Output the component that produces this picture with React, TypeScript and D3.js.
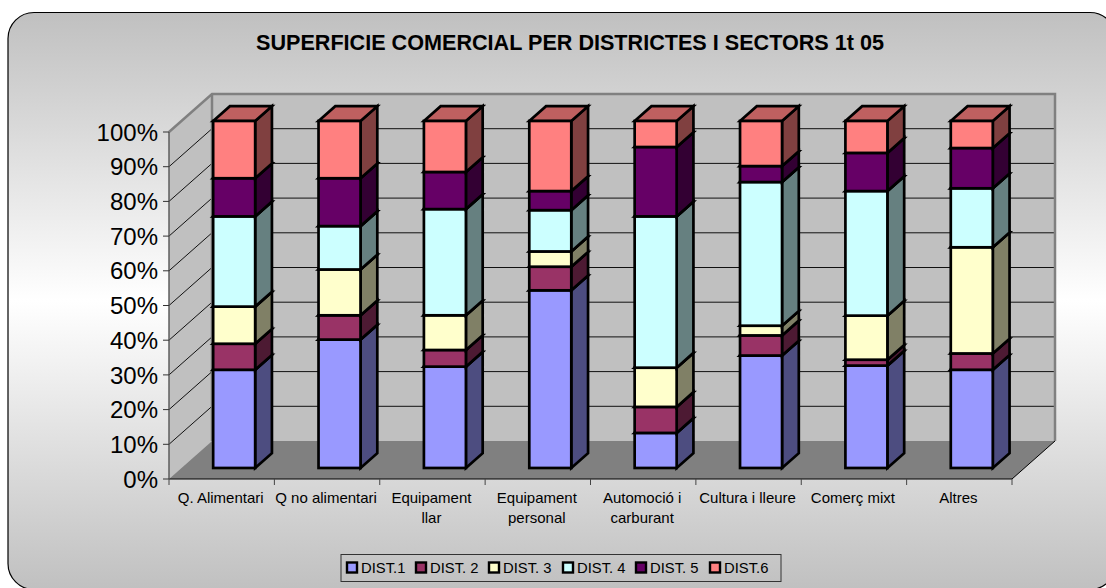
import React from 'react';
import * as d3 from 'd3';

const categories = ['Q. Alimentari', 'Q no alimentari', 'Equipament llar', 'Equipament personal', 'Automoció i carburant', 'Cultura i lleure', 'Comerç mixt', 'Altres'];
const labelLines = [['Q. Alimentari'], ['Q no alimentari'], ['Equipament', 'llar'], ['Equipament', 'personal'], ['Automoció i', 'carburant'], ['Cultura i lleure'], ['Comerç mixt'], ['Altres']];
const seriesNames = ['DIST.1', 'DIST. 2', 'DIST. 3', 'DIST. 4', 'DIST. 5', 'DIST.6'];
const dist1 = [28.3, 37, 29.2, 51.2, 10.1, 32.4, 29.5, 28.3];
const dist2 = [7.5, 7, 4.8, 6.8, 7.5, 5.8, 1.7, 4.7];
const dist3 = [10.7, 13.2, 10, 4.4, 11.3, 2.8, 12.7, 30.6];
const dist4 = [26, 12.5, 30.6, 11.9, 43.6, 41.4, 35.9, 17];
const dist5 = [11, 13.8, 10.7, 5.5, 20, 4.6, 11, 11.6];
const dist6 = [16.5, 16.5, 14.7, 20.2, 7.5, 13, 9.2, 7.8];
const allSeries = [dist1, dist2, dist3, dist4, dist5, dist6];
const colors = ['#9999ff', '#993366', '#ffffcc', '#ccffff', '#660066', '#ff8080'];
const yTicks = [0, 10, 20, 30, 40, 50, 60, 70, 80, 90, 100];
const legendX = [347, 416, 489, 563, 636, 710];

const font = '"Liberation Sans", Arial, sans-serif';
// projection of the 3D box: how far the back wall sits from the front plane
const DEPTH_X = 43;
const DEPTH_Y = -38;
const BAR_FRONT = 0.29;
const BAR_BACK = 0.68;
const BAR_WIDTH = 42;

const x = d3.scaleBand().domain(categories).range([169, 1012]);
const y = d3.scaleLinear().domain([0, 1]).range([479, 132]);
const yPct = d3.scaleLinear().domain([0, 100]).range([479, 132]);

const rows = categories.map((c, i) => {
  const row: any = { category: c };
  seriesNames.forEach((s, j) => { row[s] = allSeries[j][i]; });
  return row;
});
const stacked = d3.stack().keys(seriesNames).offset(d3.stackOffsetExpand)(rows);

const pts = (p: number[][]) => p.map(d => d.join(',')).join(' ');

const Segment = ({ x0, y0, y1, fill }: any) => {
  const dFx = DEPTH_X * BAR_FRONT, dFy = DEPTH_Y * BAR_FRONT;
  const dBx = DEPTH_X * BAR_BACK, dBy = DEPTH_Y * BAR_BACK;
  const left = x0 + dFx, right = left + BAR_WIDTH;
  const top = y1 + dFy, bottom = y0 + dFy;
  const backRight = x0 + dBx + BAR_WIDTH, backLeft = x0 + dBx;
  const base = d3.color(fill) as d3.RGBColor;
  const shade = (k: number) => d3.rgb(base.r * k, base.g * k, base.b * k).formatHex();
  return (
    <g stroke="#000" strokeWidth={2.7} strokeLinejoin="miter">
      <polygon points={pts([[right, bottom], [backRight, y0 + dBy], [backRight, y1 + dBy], [right, top]])} fill={shade(0.5)} />
      <polygon points={pts([[left, top], [backLeft, y1 + dBy], [backRight, y1 + dBy], [right, top]])} fill={shade(0.75)} />
      <rect x={left} y={top} width={BAR_WIDTH} height={bottom - top} fill={fill} />
    </g>
  );
};

export default function App() {
  const xStart = 169, xEnd = 1012;
  const wallL = xStart + DEPTH_X, wallR = xEnd + DEPTH_X;
  const ticksX = [...categories.map(c => x(c) as number), xEnd];
  return (
    <svg width={1106} height={588} style={{ position: 'absolute', left: 0, top: 0 }} fontFamily={font}>
      <defs>
        <linearGradient id="panel" x1="0" y1="0" x2="0" y2="1">
          <stop offset="0" stopColor="#c0c0c0" />
          <stop offset="0.5" stopColor="#ffffff" />
          <stop offset="1" stopColor="#c0c0c0" />
        </linearGradient>
      </defs>
      <rect x={8} y={12.5} width={1108} height={577} rx={26} ry={26} fill="url(#panel)" stroke="#000" strokeWidth={1.2} />
      <text x={570} y={50} textAnchor="middle" fontSize={21.6} fontWeight="bold">SUPERFICIE COMERCIAL PER DISTRICTES I SECTORS 1t 05</text>

      {/* walls and floor */}
      <polygon points={pts([[wallL, y(0) + DEPTH_Y], [wallR, y(0) + DEPTH_Y], [wallR, y(1) + DEPTH_Y], [wallL, y(1) + DEPTH_Y]])} fill="#c0c0c0" />
      <polygon points={pts([[xStart, y(0)], [wallL, y(0) + DEPTH_Y], [wallL, y(1) + DEPTH_Y], [xStart, y(1)]])} fill="#c0c0c0" />
      <polygon points={pts([[xStart, y(0)], [wallL, y(0) + DEPTH_Y], [wallR, y(0) + DEPTH_Y], [xEnd, y(0)]])} fill="#808080" />
      {yTicks.filter(t => t > 0 && t < 100).map(t => (
        <g key={t} stroke="#111" strokeWidth={1}>
          <line x1={wallL} x2={wallR} y1={yPct(t) + DEPTH_Y} y2={yPct(t) + DEPTH_Y} />
          <line x1={xStart} x2={wallL} y1={yPct(t)} y2={yPct(t) + DEPTH_Y} />
        </g>
      ))}
      <polyline points={pts([[xStart, y(1)], [wallL, y(1) + DEPTH_Y], [wallR, y(1) + DEPTH_Y], [wallR, y(0) + DEPTH_Y]])} fill="none" stroke="#808080" strokeWidth={2.5} />
      <line x1={wallL} x2={wallL} y1={y(1) + DEPTH_Y} y2={y(0) + DEPTH_Y} stroke="#808080" strokeWidth={2.5} />

      {/* axes */}
      <line x1={xStart} x2={xEnd} y1={y(0)} y2={y(0)} stroke="#000" />
      <line x1={xEnd} x2={wallR} y1={y(0)} y2={y(0) + DEPTH_Y} stroke="#000" />
      <line x1={xStart} x2={xStart} y1={y(0)} y2={y(1)} stroke="#555" strokeWidth={1.4} />
      {yTicks.map(t => (
        <g key={t}>
          <line x1={xStart - 6} x2={xStart} y1={yPct(t)} y2={yPct(t)} stroke="#333" />
          <text x={xStart - 11} y={yPct(t)} dy="0.36em" textAnchor="end" fontSize={24}>{t}%</text>
        </g>
      ))}
      {ticksX.map(t => <line key={t} x1={t} x2={t} y1={y(0)} y2={y(0) + 6} stroke="#444" />)}
      {categories.map((c, i) => (
        <text key={c} textAnchor="middle" fontSize={15} x={(x(c) as number) + x.bandwidth() / 2 - 1}>
          {labelLines[i].map((l, k) => <tspan key={k} x={(x(c) as number) + x.bandwidth() / 2 - 1} y={503 + k * 20}>{l}</tspan>)}
        </text>
      ))}

      {/* bars, left to right, bottom to top */}
      {categories.map((c, i) => {
        const x0 = (x(c) as number) + (x.bandwidth() - BAR_WIDTH) / 2;
        return (
          <g key={c}>
            {stacked.map((s, j) => (
              <Segment key={j} x0={x0} y0={y(s[i][0])} y1={y(s[i][1])} fill={colors[j]} />
            ))}
          </g>
        );
      })}

      {/* legend */}
      <rect x={341} y={554.5} width={440} height={27} fill="none" stroke="#333" strokeWidth={1} />
      {seriesNames.map((s, i) => (
        <g key={s}>
          <rect x={legendX[i]} y={562.5} width={10} height={10} fill={colors[i]} stroke="#000" strokeWidth={2.4} />
          <text x={legendX[i] + 14} y={573} fontSize={14.8}>{s}</text>
        </g>
      ))}
    </svg>
  );
}
